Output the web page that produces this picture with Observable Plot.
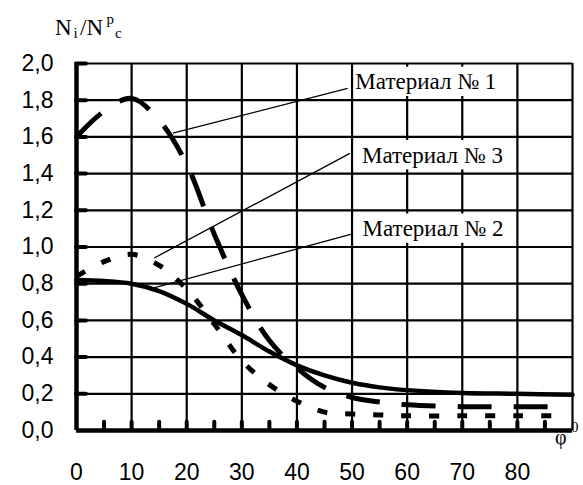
<!DOCTYPE html>
<html>
<head>
<meta charset="utf-8">
<script src="https://cdn.jsdelivr.net/npm/d3@7"></script>
<script src="https://cdn.jsdelivr.net/npm/@observablehq/plot@0.6"></script>
<style>
  html, body { margin: 0; padding: 0; background: #fff; }
  #chart svg { display: block; }
  #chart svg text.serif { font-family: 'Liberation Serif', 'Times New Roman', serif; }
</style>
</head>
<body>
<div id="chart"></div>
<script>
// ---- data ----
const phi1 = [0, 5, 10, 15, 20, 25, 30, 35, 40, 45, 50, 55, 60, 70, 80, 87];
const mat1 = [1.60, 1.74, 1.81, 1.69, 1.45, 1.07, 0.74, 0.49, 0.34, 0.235, 0.18, 0.155, 0.14, 0.13, 0.13, 0.13];

const phi2 = [0, 5, 10, 15, 20, 25, 30, 35, 40, 45, 50, 55, 60, 70, 80, 90];
const mat2 = [0.82, 0.815, 0.80, 0.76, 0.69, 0.60, 0.52, 0.43, 0.355, 0.30, 0.26, 0.235, 0.22, 0.205, 0.20, 0.195];

const phi3 = [0, 5, 10, 15, 20, 25, 30, 35, 40, 45, 50, 55, 60, 70, 80, 87];
const mat3 = [0.84, 0.92, 0.96, 0.90, 0.77, 0.58, 0.38, 0.25, 0.16, 0.10, 0.09, 0.085, 0.08, 0.08, 0.08, 0.08];

const labelNames = ["Материал № 1", "Материал № 3", "Материал № 2"];
const labelX = [50.6, 51.8, 51.9];
const labelY = [1.90, 1.50, 1.10];
const boxX1 = [50.4, 50.4, 50.4];
const boxX2 = [79.2, 79.2, 79.2];
const boxY1 = [1.82, 1.42, 1.02];
const boxY2 = [1.98, 1.58, 1.18];

const leaderX1 = [17.5, 14.1, 13.7];
const leaderY1 = [1.62, 0.94, 0.775];
const leaderX2 = [49.2, 49.6, 49.9];
const leaderY2 = [1.865, 1.51, 1.07];

const xTickLabels = [0, 10, 20, 30, 40, 50, 60, 70, 80];
const yTickLabels = [0, 0.2, 0.4, 0.6, 0.8, 1.0, 1.2, 1.4, 1.6, 1.8, 2.0];
const xGrid = [10, 20, 30, 40, 50, 60, 70, 80, 90];
const yGrid = [0.2, 0.4, 0.6, 0.8, 1.0, 1.2, 1.4, 1.6, 1.8, 2.0];
const xMinorTicks = [5, 10, 15, 20, 25, 30, 35, 40, 45, 50, 55, 60, 65, 70, 75, 80, 85];

// ---- tables ----
const s1 = phi1.map((x, i) => ({x, y: mat1[i]}));
const s2 = phi2.map((x, i) => ({x, y: mat2[i]}));
const s3 = phi3.map((x, i) => ({x, y: mat3[i]}));
const labels = labelNames.map((t, i) => ({t, x: labelX[i], y: labelY[i],
  bx1: boxX1[i], bx2: boxX2[i], by1: boxY1[i], by2: boxY2[i],
  lx1: leaderX1[i], ly1: leaderY1[i], lx2: leaderX2[i], ly2: leaderY2[i]}));

const serif = "'Liberation Serif', 'Times New Roman', serif";
const sans = "'Liberation Sans', Arial, sans-serif";

const chart = Plot.plot({
  width: 583,
  height: 485,
  marginLeft: 76,
  marginRight: 11,
  marginTop: 63,
  marginBottom: 55,
  style: {background: "white", color: "black", fontFamily: sans},
  x: {domain: [0, 90]},
  y: {domain: [0, 2]},
  marks: [
    Plot.ruleX(xGrid, {stroke: "black", strokeWidth: 2.2}),
    Plot.ruleY(yGrid, {stroke: "black", strokeWidth: 2.2}),
    Plot.rect(labels, {x1: "bx1", x2: "bx2", y1: "by1", y2: "by2", fill: "white"}),
    Plot.link(labels, {x1: "lx1", y1: "ly1", x2: "lx2", y2: "ly2", stroke: "black", strokeWidth: 1.3}),
    Plot.line(s2, {x: "x", y: "y", stroke: "black", strokeWidth: 4.5, curve: "catmull-rom"}),
    Plot.line(s1, {x: "x", y: "y", stroke: "black", strokeWidth: 5, curve: "catmull-rom",
      strokeDasharray: "34,22", strokeLinecap: "butt"}),
    Plot.line(s3, {x: "x", y: "y", stroke: "black", strokeWidth: 5, curve: "catmull-rom",
      strokeDasharray: "10,18", strokeLinecap: "butt"}),
    Plot.text(labels, {x: "x", y: "y", text: "t", textAnchor: "start", fontFamily: serif,
      fontSize: 23, fill: "black"}),
    // thick axes
    Plot.ruleX([0], {stroke: "black", strokeWidth: 4.5}),
    Plot.ruleY([0], {stroke: "black", strokeWidth: 4.5}),
    // tick stubs
    Plot.ruleY(yGrid, {x1: 0, x2: 1.8, stroke: "black", strokeWidth: 4, strokeLinecap: "round"}),
    Plot.ruleX(xMinorTicks, {y1: 0, y2: 0.045, stroke: "black", strokeWidth: 4, strokeLinecap: "round"}),
    Plot.axisX({ticks: xTickLabels, tickSize: 0, tickPadding: 33, fontSize: 23, label: null,
      tickFormat: d => String(d)}),
    Plot.axisY({ticks: yTickLabels, tickSize: 0, tickPadding: 23, fontSize: 23, label: null,
      tickFormat: d => d.toFixed(1).replace(".", ",")})
  ]
});

document.getElementById("chart").appendChild(chart);

// axis titles with sub/superscripts (separate text pieces, left-anchored)
const svg = d3.select(chart);
function piece(str, x, y, size) {
  svg.append("text").attr("class", "serif")
    .attr("x", x).attr("y", y)
    .attr("text-anchor", "start")
    .attr("font-size", size)
    .style("font-family", serif).style("font-size", size + "px")
    .attr("fill", "black").text(str);
}
piece("N", 55, 35, 23);
piece("i", 73.5, 38, 15);
piece("/N", 80, 35, 23);
piece("p", 106.5, 24, 15);
piece("c", 115, 38, 15);
piece("φ", 555, 444, 20);
piece("0", 571, 432, 15);
</script>
</body>
</html>
